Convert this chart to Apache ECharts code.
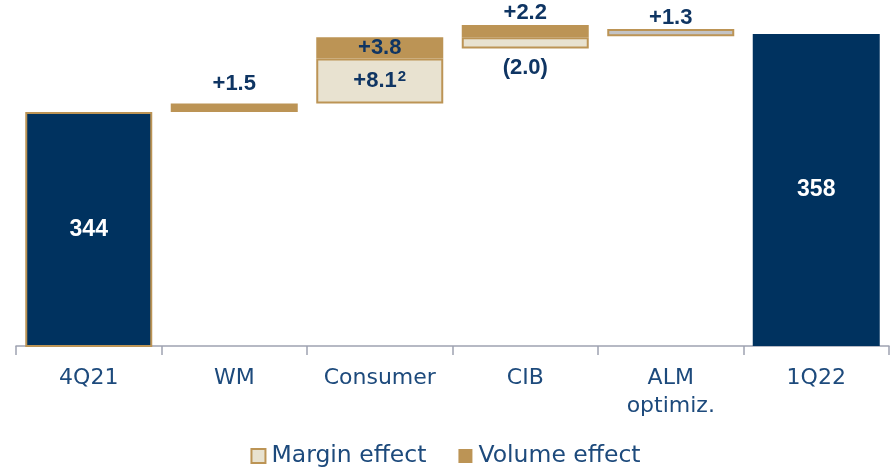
<!DOCTYPE html>
<html>
<head>
<meta charset="utf-8">
<script src="https://cdn.jsdelivr.net/npm/echarts@6/dist/echarts.min.js"></script>
<style>
  html, body { margin: 0; padding: 0; background: #fff; }
  #chart { width: 891px; height: 469px; }
</style>
</head>
<body>
<div id="chart"></div>
<script>
// data
const categories = ['4Q21', 'WM', 'Consumer', 'CIB', 'ALM\noptimiz.', '1Q22']
const totals = [344, null, null, null, null, 358]
const marginEffect = [null, null, 8.1, -2.0, null, null]
const volumeEffect = [null, 1.5, 3.8, 2.2, null, null]
const otherEffect = [null, null, null, null, 1.3, null]
const marginNotes = [null, null, '2', null, null, null]

const NAVY = '#00325f'
const GOLD = '#bc9455'
const BEIGE = '#e8e2d0'
const TEXT = '#0f3563'

// build the waterfall steps from the running total
const base = []
const marginBar = []
let run = totals[0]
categories.forEach((c, i) => {
  if (totals[i] != null) {
    base.push(null)
    marginBar.push(null)
    return
  }
  const m = marginEffect[i] || 0
  const v = volumeEffect[i] || 0
  const o = otherEffect[i] || 0
  base.push(m < 0 ? run + m : run)
  marginBar.push(m !== 0 ? Math.abs(m) : null)
  run += m + v + o
})

function fmt(v) {
  return v < 0 ? '(' + Math.abs(v).toFixed(1) + ')' : '+' + v.toFixed(1)
}

const labelStyle = {
  color: TEXT,
  fontFamily: 'Liberation Sans',
  fontWeight: 'bold',
  fontSize: 22
}

const chart = echarts.init(document.getElementById('chart'))
chart.setOption({
  animation: false,
  grid: { left: 16, right: 2, top: 20, bottom: 123 },
  legend: {
    bottom: -4,
    left: 'center',
    icon: 'rect',
    itemWidth: 14,
    itemHeight: 14,
    itemGap: 32,
    data: ['Margin effect', 'Volume effect'],
    textStyle: { color: '#1d4a7c', fontSize: 23.5, fontFamily: 'DejaVu Sans', padding: [0, 0, 0, 1] }
  },
  xAxis: {
    type: 'category',
    data: categories,
    axisLine: { lineStyle: { color: '#9ea3b1', width: 1.5 } },
    axisTick: { show: true, interval: 0, length: 9, lineStyle: { color: '#9ea3b1', width: 1.5 } },
    axisLabel: {
      interval: 0,
      color: '#1d4a7c',
      fontSize: 22,
      fontFamily: 'DejaVu Sans',
      margin: 18,
      lineHeight: 28
    }
  },
  yAxis: {
    type: 'value',
    min: 302,
    max: 360.5,
    show: false,
    splitLine: { show: false }
  },
  series: [
    {
      name: 'base',
      type: 'bar',
      stack: 'w',
      barWidth: 127,
      itemStyle: { color: 'transparent' },
      data: base,
      silent: true
    },
    {
      name: 'Margin effect',
      type: 'bar',
      stack: 'w',
      itemStyle: { color: BEIGE, borderColor: GOLD, borderWidth: 2 },
      data: marginBar.map((v, i) => {
        if (v == null) return null
        const m = marginEffect[i]
        return {
          value: v,
          label: {
            show: true,
            position: m < 0 ? 'bottom' : 'inside',
            distance: 9,
            formatter: () => marginNotes[i] ? '{a|' + fmt(m) + '}{s|' + marginNotes[i] + '}' : fmt(m),
            rich: {
              a: labelStyle,
              s: { color: TEXT, fontFamily: 'Liberation Sans', fontWeight: 'bold', fontSize: 15, verticalAlign: 'top', padding: [0, 0, 8, 1] }
            },
            ...labelStyle
          }
        }
      })
    },
    {
      name: 'Volume effect',
      type: 'bar',
      stack: 'w',
      itemStyle: { color: GOLD },
      data: volumeEffect.map((v, i) => {
        if (v == null) return null
        const inside = marginEffect[i] != null && marginEffect[i] > 0
        return {
          value: v,
          label: {
            show: true,
            position: inside ? 'inside' : 'top',
            distance: inside ? 0 : (marginEffect[i] != null ? 1 : 9),
            formatter: fmt(v),
            ...labelStyle
          }
        }
      })
    },
    {
      name: 'other',
      type: 'bar',
      stack: 'w',
      itemStyle: { color: '#c3c3c5', borderColor: GOLD, borderWidth: 2 },
      data: otherEffect.map(v => v == null ? null : {
        value: v,
        label: { show: true, position: 'top', distance: 0, formatter: fmt(v), ...labelStyle }
      })
    },
    {
      name: 'total',
      type: 'bar',
      stack: 'w',
      data: totals.map((v, i) => v == null ? null : {
        value: v,
        itemStyle: i === 0
          ? { color: NAVY, borderColor: GOLD, borderWidth: 2 }
          : { color: NAVY },
        label: {
          show: true,
          position: 'inside',
          formatter: String(v),
          ...labelStyle,
          fontSize: 23,
          color: '#fff'
        }
      })
    }
  ]
})
</script>
</body>
</html>
